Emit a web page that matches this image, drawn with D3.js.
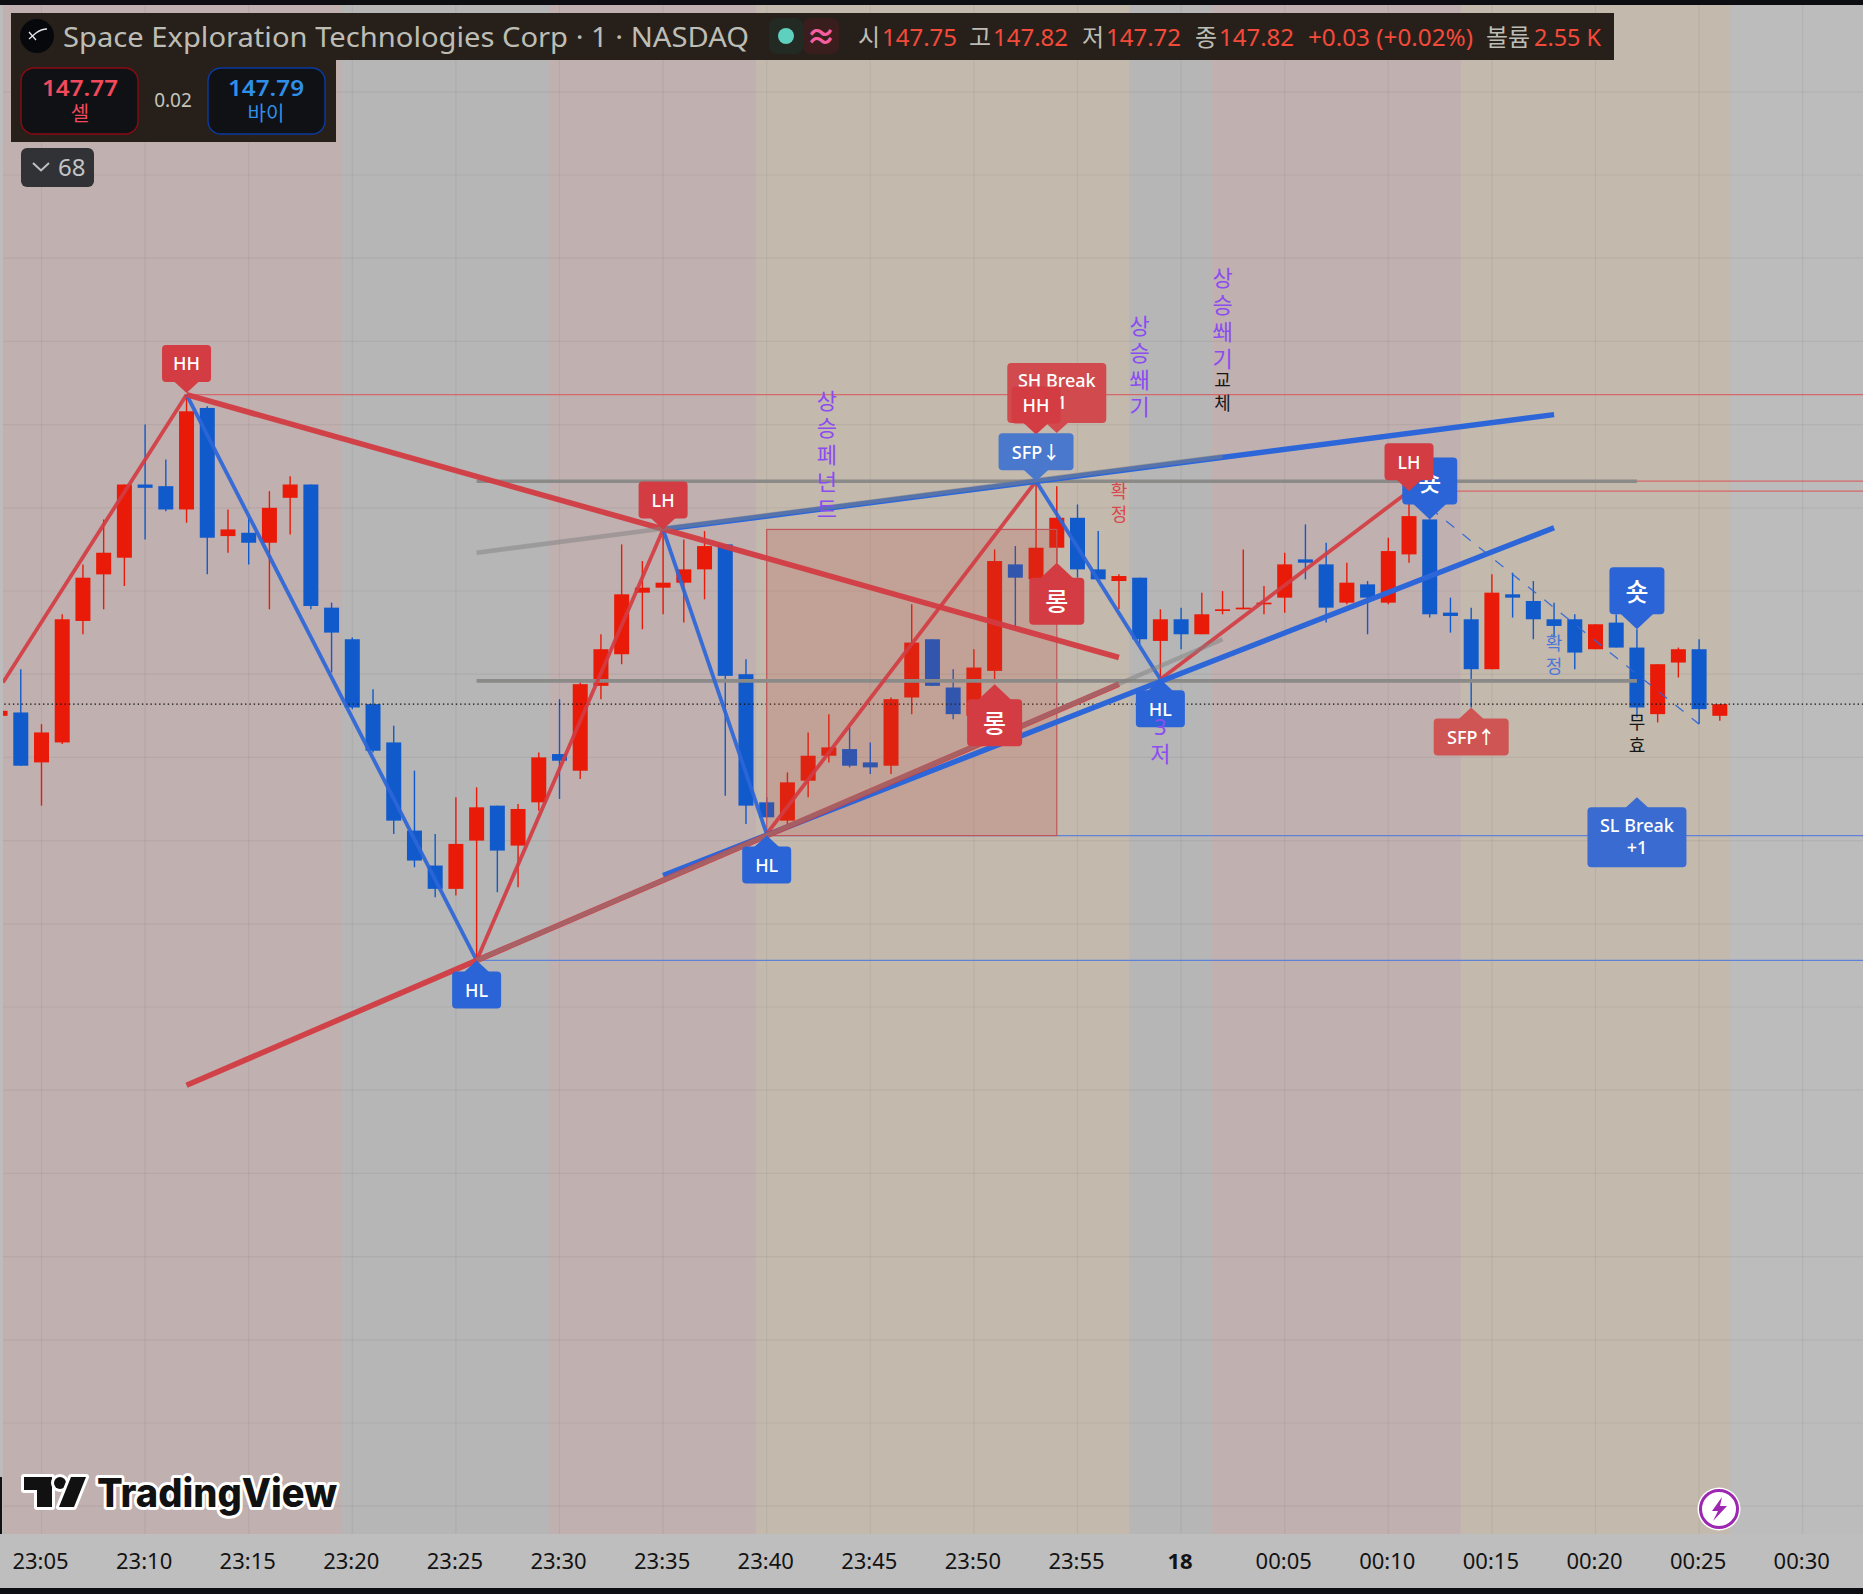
<!DOCTYPE html>
<html>
<head>
<meta charset="utf-8">
<style>
  html, body { margin: 0; padding: 0; background: #0c0e12; overflow: hidden; }
  svg { display: block; }
  text { font-family: "Noto Sans", "Noto Sans CJK KR", sans-serif; }
</style>
</head>
<body>
<div class="chartContainer"></div>

<script src="https://d3js.org/d3.v7.min.js"></script>
<script>
    // candles: minutes counted from 23:05, first one is 23:03
    const firstMinute = -2;
    const opens  = [147.75,147.77,147.47,147.59,148.32,148.60,148.70,149.14,149.13,148.99,149.60,148.83,148.85,148.79,149.06,149.14,148.40,148.21,147.82,147.59,147.06,146.85,146.71,147.00,147.21,146.97,147.23,147.52,147.42,147.93,148.12,148.49,148.52,148.55,148.63,148.78,148.00,147.23,147.12,147.36,147.51,147.55,147.47,147.45,147.86,148.21,147.92,147.75,148.02,148.66,148.57,148.76,148.94,148.63,148.56,148.58,148.20,148.33,148.24,148.38,148.39,148.42,148.46,148.69,148.66,148.43,148.54,148.43,148.72,148.93,148.37,148.33,148.03,148.48,148.44,148.33,148.33,148.15,148.31,148.16,147.76,148.07,148.15,147.75];
    const highs  = [147.78,148.03,147.70,148.36,148.66,148.93,149.14,149.50,149.29,149.68,149.61,148.99,148.94,149.10,149.19,149.14,148.43,148.22,147.91,147.69,147.42,147.04,147.26,147.32,147.21,147.22,147.53,147.85,147.96,148.24,148.78,148.68,148.87,148.81,148.86,148.78,148.09,147.26,147.41,147.65,147.76,147.68,147.59,147.86,148.42,148.21,148.03,148.15,148.75,148.77,149.15,149.13,149.02,148.86,148.60,148.58,148.39,148.40,148.49,148.50,148.75,148.53,148.73,148.90,148.79,148.67,148.56,148.82,149.03,148.93,148.46,148.40,148.60,148.61,148.56,148.43,148.36,148.30,148.36,148.27,148.06,148.16,148.21,147.82];
    const lows   = [147.75,147.45,147.21,147.58,148.24,148.39,148.53,148.81,148.98,148.91,148.60,148.73,148.66,148.39,148.84,148.39,148.01,147.79,147.53,147.04,146.84,146.66,146.67,146.28,146.69,146.72,147.18,147.25,147.37,147.85,148.06,148.27,148.36,148.31,148.45,147.27,147.10,147.14,147.10,147.26,147.47,147.44,147.40,147.40,147.76,147.93,147.73,147.75,147.95,148.28,148.51,148.67,148.58,148.57,148.39,148.18,147.97,148.15,148.24,148.36,148.39,148.36,148.37,148.57,148.31,148.42,148.24,148.42,148.67,148.34,148.25,147.80,148.03,148.34,148.21,148.22,148.03,148.15,148.16,147.74,147.71,147.98,147.70,147.72];
    const closes = [147.78,147.45,147.65,148.33,148.58,148.73,149.14,149.12,148.99,149.58,148.82,148.87,148.79,149.00,149.14,148.41,148.25,147.80,147.54,147.12,146.88,146.71,146.98,147.20,146.94,147.19,147.50,147.48,147.94,148.15,148.48,148.52,148.55,148.63,148.77,147.99,147.21,147.14,147.35,147.51,147.56,147.45,147.44,147.85,148.19,147.93,147.76,148.04,148.68,148.58,148.76,148.94,148.63,148.57,148.59,148.21,148.33,148.24,148.36,148.39,148.40,148.43,148.66,148.67,148.40,148.55,148.46,148.74,148.95,148.36,148.35,148.03,148.49,148.46,148.33,148.29,148.13,148.30,148.16,147.80,148.06,148.15,147.79,147.82];

    const tickMinutes = [0,5,10,15,20,25,30,35,40,45,50,55,60,65,70,75,80,85];
    const tickLabels  = ['23:05','23:10','23:15','23:20','23:25','23:30','23:35','23:40','23:45','23:50','23:55','18','00:05','00:10','00:15','00:20','00:25','00:30'];
    const gridPrices  = [143,143.5,144,144.5,145,145.5,146,146.5,147,147.5,148,148.5,149,149.5,150,150.5,151,151.5];

    // background sessions
    const zoneStarts = [-1.86,14.5,24.5,34.5,52.5,56.5,68.5];
    const zoneEnds   = [14.5,24.5,34.5,52.5,56.5,68.5,81.5];
    const zoneKinds  = ['red','gray','red','tan','gray','red','tan'];

    // swing line
    const swingMinutes = [-1.86,7,21,30,35,48,54,66];
    const swingPrices  = [147.95,149.68,146.28,148.87,147.04,149.16,147.97,149.10];

    // [minute, price, minute, price]
    const redTrends  = [[7,149.68,52,148.10],[7,145.53,52,147.94]];
    const blueTrends = [[30,146.79,73,148.88],[30,148.87,73,149.56]];
    const grayTrends = [[21,146.28,57,148.21],[21,148.73,57,149.31]];
    const grayLevels = [[21,149.16,77,149.16],[21,147.96,77,147.96]];
    const dashedLeg  = [[67,149.00,80,147.70]];

    // thin levels running to the right edge: [from minute, price]
    const redLevels  = [[7,149.68],[48,149.16],[66,149.10]];
    const blueLevels = [[21,146.28],[35,147.03]];

    const lastPrice = 147.82;
    const boxMinutes = [35,49];
    const boxPrices  = [147.03,148.87];

    // labels, tip sits on (minute, price)
    const labelTexts   = ['HH','LH','HL','HL','HL','SH Break|+1','HH','SFP↓','롱','롱','숏','LH','숏','SFP↑','SL Break|+1'];
    const labelMinutes = [7,30,21,35,54,49,48,48,49,46,67,66,77,69,77];
    const labelPrices  = [149.69,148.87,146.28,147.03,147.97,149.45,149.44,149.16,148.67,147.94,148.93,149.10,148.27,147.80,147.26];
    const labelDirs    = ['down','down','up','up','up','down','down','down','up','up','down','down','down','up','up'];
    const labelKinds   = ['red','red','blue','blue','blue','redSoft','red','blueSoft','red','red','blue','red','blue','redPale','blueMid'];

    // vertical notes
    const noteTexts   = ['상승페넌트','상승쐐기','상승쐐기','교체','확정','3저','확정','무효'];
    const noteMinutes = [37.9,53,57,57,52,54,73,77];
    const notePrices  = [149.65,150.10,150.39,149.77,149.10,147.69,148.19,147.71];
    const noteKinds   = ['purple','purple','purple','black','red','purple','blue','black'];

    const width = 1863, height = 1594;
    const plotLeft = 3, plotTop = 5, plotBottom = 1534, axisBottom = 1588;

    const x = d3.scaleLinear().domain([0, 80]).range([41.5, 1699.1]);
    const y = d3.scaleLinear().domain([148, 143]).range([674.2, 1506.2]);

    const UP = '#e91a07', DOWN = '#105acb';
    const zoneColor = {red: '#c1b0b0', gray: '#b6b6b6', tan: '#c4b9ad'};
    const labelColor = {red: '#d23c42', blue: '#2b64d6', redSoft: '#d04a4e', blueSoft: '#4a78cc', redPale: '#cf5554', blueMid: '#3a6bd0'};
    const noteColor = {purple: '#8b4cf0', black: '#161616', red: '#d8484c', blue: '#4a78d8'};

    const svg = d3.select('.chartContainer')
                  .append('svg')
                  .attr('width', width)
                  .attr('height', height);

    svg.append('rect').attr('width', width).attr('height', height).attr('fill', '#0c0e12');
    svg.append('rect').attr('x', 0).attr('y', plotTop).attr('width', width).attr('height', plotBottom - plotTop).attr('fill', '#bcbcbc');
    svg.append('rect').attr('x', 0).attr('y', plotBottom).attr('width', width).attr('height', axisBottom - plotBottom).attr('fill', '#bebebe');

    svg.append('clipPath').attr('id', 'plot').append('rect')
       .attr('x', plotLeft).attr('y', plotTop).attr('width', width - plotLeft).attr('height', plotBottom - plotTop);

    const plot = svg.append('g').attr('clip-path', 'url(#plot)');

    // sessions
    plot.append('g').selectAll('rect').data(zoneStarts).enter().append('rect')
        .attr('x', d => x(d))
        .attr('y', plotTop)
        .attr('width', (d, i) => x(zoneEnds[i]) - x(d))
        .attr('height', plotBottom - plotTop)
        .attr('fill', (d, i) => zoneColor[zoneKinds[i]]);

    // grid
    plot.append('g').selectAll('line').data(tickMinutes).enter().append('line')
        .attr('x1', d => x(d)).attr('x2', d => x(d))
        .attr('y1', plotTop).attr('y2', plotBottom)
        .style('stroke', 'rgba(0,0,0,0.05)').style('stroke-width', 1.2);
    plot.append('g').selectAll('line').data(gridPrices).enter().append('line')
        .attr('x1', 0).attr('x2', width)
        .attr('y1', d => y(d)).attr('y2', d => y(d))
        .style('stroke', 'rgba(0,0,0,0.05)').style('stroke-width', 1.2);

    // thin levels
    plot.append('g').selectAll('line').data(redLevels).enter().append('line')
        .attr('x1', d => x(d[0])).attr('x2', width)
        .attr('y1', d => y(d[1])).attr('y2', d => y(d[1]))
        .style('stroke', '#d4686a').style('stroke-width', 1.2);
    plot.append('g').selectAll('line').data(blueLevels).enter().append('line')
        .attr('x1', d => x(d[0])).attr('x2', width)
        .attr('y1', d => y(d[1])).attr('y2', d => y(d[1]))
        .style('stroke', '#5f82d6').style('stroke-width', 1.2);

    // candles
    const candles = plot.append('g').selectAll('g').data(opens).enter().append('g')
        .style('color', (d, i) => closes[i] >= d ? UP : DOWN);
    candles.append('line')
        .attr('x1', (d, i) => x(firstMinute + i)).attr('x2', (d, i) => x(firstMinute + i))
        .attr('y1', (d, i) => y(highs[i])).attr('y2', (d, i) => y(lows[i]))
        .style('stroke', 'currentColor').style('stroke-width', 1.4);
    candles.append('rect')
        .attr('x', (d, i) => x(firstMinute + i) - 7.5)
        .attr('width', 15)
        .attr('y', (d, i) => y(Math.max(d, closes[i])))
        .attr('height', (d, i) => Math.max(1.5, Math.abs(y(d) - y(closes[i]))))
        .attr('fill', 'currentColor');

    // last price
    plot.append('line')
        .attr('x1', 0).attr('x2', width)
        .attr('y1', y(lastPrice)).attr('y2', y(lastPrice))
        .style('stroke', '#111').style('stroke-width', 1.3).style('stroke-dasharray', '1.4 2.9');

    // long box, lies over the candles
    plot.append('rect')
        .attr('x', x(boxMinutes[0]))
        .attr('y', y(boxPrices[1]))
        .attr('width', x(boxMinutes[1]) - x(boxMinutes[0]))
        .attr('height', y(boxPrices[0]) - y(boxPrices[1]))
        .attr('fill', 'rgba(190,70,60,0.2)')
        .style('stroke', '#c0565a').style('stroke-width', 1.2);

    function drawSegs(segs, color, w, dash) {
        plot.append('g').selectAll('line').data(segs).enter().append('line')
            .attr('x1', d => x(d[0])).attr('y1', d => y(d[1]))
            .attr('x2', d => x(d[2])).attr('y2', d => y(d[3]))
            .style('stroke', color).style('stroke-width', w)
            .style('stroke-dasharray', dash || null);
    }

    drawSegs(grayLevels, '#8a8a88', 3.6);

    // swing line, colour alternates leg by leg
    d3.pairs(swingMinutes.map((m, i) => [m, swingPrices[i]])).forEach((p, i) => {
        drawSegs([[p[0][0], p[0][1], p[1][0], p[1][1]]], i % 2 == 0 ? 'rgba(210,60,66,0.92)' : 'rgba(44,102,216,0.92)', 3.8);
    });
    drawSegs(dashedLeg, 'rgba(44,102,216,0.9)', 1.3, '10.5 10.5');

    drawSegs(blueTrends, '#2c66d8', 5.4);
    drawSegs(redTrends, 'rgba(210,60,66,0.95)', 5.6);
    drawSegs(grayTrends, 'rgba(128,128,128,0.5)', 4.6);

    // labels
    function boxSize(t) {
        if (t.includes('Break')) return [99, 60, 10];
        if (t.startsWith('SFP')) return [75, 37, 11];
        if (t == '롱' || t == '숏') return [55, 47, 15];
        return [49, 37, 11];
    }
    labelTexts.forEach((t, i) => {
        const s = boxSize(t), tx = x(labelMinutes[i]), ty = y(labelPrices[i]);
        const sign = labelDirs[i] == 'down' ? -1 : 1;
        const near = ty + sign * s[2];
        const far = near + sign * s[1];
        const top = Math.min(near, far);
        const g = svg.append('g');
        g.append('rect').attr('x', tx - s[0] / 2).attr('y', top).attr('width', s[0]).attr('height', s[1]).attr('rx', 4)
         .attr('fill', labelColor[labelKinds[i]]);
        g.append('path')
         .attr('d', d3.line()([[tx - s[2] - 2, near + sign], [tx, ty], [tx + s[2] + 2, near + sign]]))
         .attr('fill', labelColor[labelKinds[i]]);
        const lines = t.split('|');
        g.selectAll('text').data(lines).enter().append('text')
         .attr('x', tx)
         .attr('y', (d, k) => top + s[1] / 2 - (lines.length > 1 ? 1.5 : 0) + (k - (lines.length - 1) / 2) * 22)
         .attr('text-anchor', 'middle')
         .attr('dominant-baseline', 'central')
         .attr('font-size', s[1] == 47 ? 25 : 18)
         .attr('font-weight', 500)
         .attr('fill', '#fff')
         .text(d => d);
    });

    // vertical notes, they sit on top of the labels
    noteTexts.forEach((txt, n) => {
        const big = noteKinds[n] == 'purple';
        const step = big ? 27 : 23;
        svg.append('g').selectAll('text').data(Array.from(txt)).enter().append('text')
            .attr('x', x(noteMinutes[n]))
            .attr('y', (d, i) => y(notePrices[n]) + i * step)
            .attr('text-anchor', 'middle')
            .attr('dominant-baseline', 'central')
            .attr('font-size', big ? 22 : 18)
            .attr('fill', noteColor[noteKinds[n]])
            .text(d => d);
    });

    // time axis
    const axis = d3.axisBottom(x)
        .tickValues(tickMinutes)
        .tickSize(0)
        .tickPadding(0)
        .tickFormat((d, i) => tickLabels[i]);
    const axisG = svg.append('g').attr('transform', 'translate(-1.5,' + plotBottom + ')').call(axis);
    axisG.select('.domain').remove();
    axisG.selectAll('text')
         .attr('y', 26)
         .attr('dy', 0)
         .attr('dominant-baseline', 'central')
         .attr('font-size', 22)
         .attr('font-family', '"Noto Sans", sans-serif')
         .attr('font-weight', d => d == 55 ? 700 : 400)
         .attr('fill', '#131313');

    // legend bar
    const head = svg.append('g');
    head.append('rect').attr('x', 11).attr('y', 13).attr('width', 1603).attr('height', 47).attr('fill', '#27201a');
    head.append('rect').attr('x', 11).attr('y', 60).attr('width', 325).attr('height', 82).attr('fill', '#27201a');
    head.append('circle').attr('cx', 37).attr('cy', 36).attr('r', 17).attr('fill', '#06080c');
    head.append('path').attr('d', 'M29 39 L36 33 M29 32 L36 40 M36 33 C40 30 44 29 47 29').attr('fill', 'none').style('stroke', '#e8e8e8').style('stroke-width', 1.3);

    function headText(tx, ty, txt, color, size, w, weight, anchor) {
        const t = head.append('text').attr('x', tx).attr('y', ty)
            .attr('dominant-baseline', 'central')
            .attr('font-size', size).attr('fill', color)
            .attr('font-weight', weight || 400)
            .attr('text-anchor', anchor || 'start')
            .text(txt);
        if (w) t.attr('textLength', w).attr('lengthAdjust', 'spacingAndGlyphs');
        return t;
    }
    const gray = '#bdbdb5', orange = '#f44a3a';
    headText(63, 36, 'Space Exploration Technologies Corp · 1 · NASDAQ', gray, 28, 686);
    head.append('rect').attr('x', 769).attr('y', 18).attr('width', 34).attr('height', 36).attr('rx', 8).attr('fill', '#232a24');
    head.append('circle').attr('cx', 786).attr('cy', 36).attr('r', 8).attr('fill', '#5fd0bd');
    head.append('rect').attr('x', 803).attr('y', 18).attr('width', 36).attr('height', 36).attr('rx', 8).attr('fill', '#3a1e1e');
    headText(821, 35, '≈', '#f75ea0', 30, null, 700, 'middle');
    const ohlcTags = ['시', '고', '저', '종'];
    const ohlcVals = ['147.75', '147.82', '147.72', '147.82'];
    const ohlcX = [858, 969, 1082, 1195];
    ohlcTags.forEach((t, i) => {
        headText(ohlcX[i], 36, t, gray, 24);
        headText(ohlcX[i] + 24, 36, ohlcVals[i], orange, 24, 75);
    });
    headText(1308, 36, '+0.03 (+0.02%)', orange, 24, 165);
    headText(1486, 36, '볼륨', gray, 24);
    headText(1534, 36, '2.55 K', orange, 24, 67);

    // sell / buy
    head.append('rect').attr('x', 21).attr('y', 68).attr('width', 117).attr('height', 66).attr('rx', 13).attr('fill', '#101114').style('stroke', '#8a0a14').style('stroke-width', 1.4);
    head.append('rect').attr('x', 208).attr('y', 68).attr('width', 117).attr('height', 66).attr('rx', 13).attr('fill', '#101114').style('stroke', '#0b3aa0').style('stroke-width', 1.4);
    headText(80, 87, '147.77', '#f24a5c', 22, 76, 600, 'middle');
    headText(80, 113, '셀', '#f24a5c', 20, null, 400, 'middle');
    headText(266, 87, '147.79', '#2f8fe8', 22, 76, 600, 'middle');
    headText(266, 113, '바이', '#2f8fe8', 20, null, 400, 'middle');
    headText(173, 100, '0.02', '#c4c4bc', 19, null, 400, 'middle');

    // collapsed indicators
    head.append('rect').attr('x', 21).attr('y', 148).attr('width', 73).attr('height', 39).attr('rx', 6).attr('fill', '#303236');
    head.append('path').attr('d', 'M33 163 L41 170.5 L49 163').attr('fill', 'none').style('stroke', '#c0c0c0').style('stroke-width', 2);
    headText(58, 166, '68', '#c4c4c4', 24);

    // watermark
    const mark = svg.append('g').attr('fill', '#111').style('stroke', '#fff').style('stroke-width', 6).style('paint-order', 'stroke').style('stroke-linejoin', 'round');
    mark.append('path').attr('d', 'M24 1477 H52 V1507 H37 V1490 H24 Z');
    mark.append('circle').attr('cx', 60).attr('cy', 1483).attr('r', 6);
    mark.append('path').attr('d', 'M71 1477 H86 L74 1507 H59 Z');
    mark.append('text').attr('x', 97).attr('y', 1507)
        .attr('font-size', 40).attr('font-weight', 800)
        .attr('textLength', 240).attr('lengthAdjust', 'spacingAndGlyphs')
        .style('font-family', 'Inter, sans-serif')
        .text('TradingView');
    svg.append('rect').attr('x', 0).attr('y', 1477).attr('width', 2).attr('height', 57).attr('fill', '#111');

    // bolt button
    svg.append('circle').attr('cx', 1719).attr('cy', 1509).attr('r', 21.5).attr('fill', '#fff');
    svg.append('circle').attr('cx', 1719).attr('cy', 1509).attr('r', 18.5).attr('fill', '#fff').style('stroke', '#9c27b0').style('stroke-width', 3);
    svg.append('path').attr('d', 'M1722 1497 L1712 1511 H1718 L1713 1521 L1727 1506 H1720 Z').attr('fill', '#9c27b0');
</script>
</body>
</html>
